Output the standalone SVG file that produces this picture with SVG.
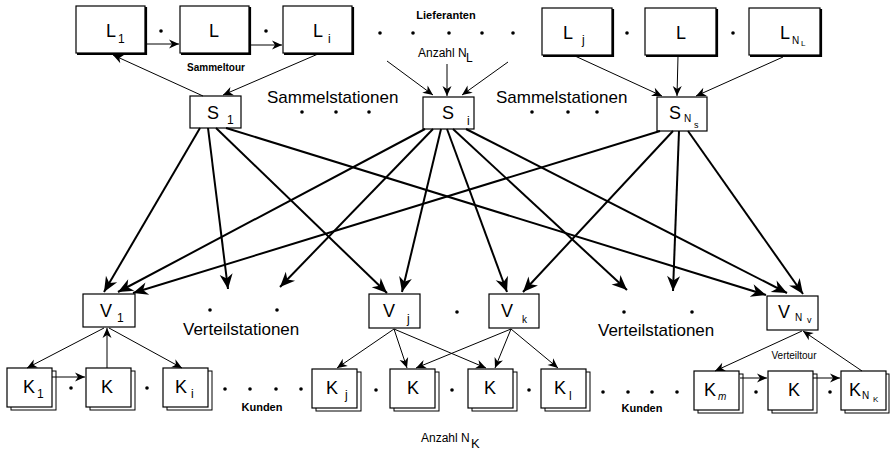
<svg xmlns="http://www.w3.org/2000/svg" width="890" height="450" viewBox="0 0 890 450">
  <style>
    text { font-family: "Liberation Sans", Arial, sans-serif; fill: #000; }
    .box { fill: #fff; stroke: #000; stroke-width: 1.2; }
    .shadow { fill: none; stroke: #000; stroke-width: 2.2; }
    .page { fill: #fff; stroke: #000; stroke-width: 1; }
    .lbl { font-size: 18px; }
    .sub { font-size: 12px; }
    .sub2 { font-size: 10px; }
    .big { font-size: 17px; }
    .small { font-size: 12px; }
    .tiny { font-size: 10px; font-weight: bold; }
    .thin { stroke: #000; stroke-width: 1; fill: none; marker-end: url(#ahs); }
    .thick { stroke: #000; stroke-width: 2; fill: none; marker-end: url(#ahl); }
    .dot { fill: #000; }
  </style>
  <defs>
    <marker id="ahl" markerUnits="userSpaceOnUse" orient="auto" refX="15" refY="0" markerWidth="16" markerHeight="14" overflow="visible">
      <path d="M0,-6.5 L15,0 L0,6.5 L4.5,0 Z" fill="#000"/>
    </marker>
    <marker id="ahs" markerUnits="userSpaceOnUse" orient="auto" refX="10" refY="0" markerWidth="11" markerHeight="10" overflow="visible">
      <path d="M0,-4.5 L10,0 L0,4.5 L3,0 Z" fill="#000"/>
    </marker>
  </defs>

  <!-- Suppliers (Lieferanten) -->
  <g id="L1"><rect class="box" x="76" y="6" width="69" height="47"/><polyline class="shadow" points="146,7 146,54 77,54"/><text class="lbl" x="106" y="37">L<tspan class="sub" x="118" y="43">1</tspan></text></g>
  <g id="L2"><rect class="box" x="180" y="6" width="69" height="47"/><polyline class="shadow" points="250,7 250,54 181,54"/><text class="lbl" x="209" y="37">L</text></g>
  <g id="Li"><rect class="box" x="283" y="6" width="69" height="47"/><polyline class="shadow" points="353,7 353,54 284,54"/><text class="lbl" x="313" y="37">L<tspan class="sub" x="328" y="43">i</tspan></text></g>
  <g id="Lj"><rect class="box" x="542" y="8" width="70" height="47"/><polyline class="shadow" points="613,9 613,56 543,56"/><text class="lbl" x="563" y="39">L<tspan class="sub" x="582" y="44">j</tspan></text></g>
  <g id="L3"><rect class="box" x="645" y="8" width="71" height="47"/><polyline class="shadow" points="717,9 717,56 646,56"/><text class="lbl" x="676" y="39">L</text></g>
  <g id="LNL"><rect class="box" x="749" y="8" width="71" height="47"/><polyline class="shadow" points="821,9 821,56 750,56"/><text class="lbl" x="780" y="39">L<tspan class="sub2" x="792" y="44">N</tspan><tspan style="font-size:8px" x="801" y="46">L</tspan></text></g>

  <!-- Collection stations (Sammelstationen) -->
  <g id="S1"><rect class="box" x="190" y="96" width="51" height="32"/><text class="lbl" x="207" y="119">S<tspan class="sub" x="227" y="124">1</tspan></text></g>
  <g id="Si"><rect class="box" x="423" y="97" width="51" height="32"/><text class="lbl" x="442" y="119">S<tspan class="sub" x="467" y="125">i</tspan></text></g>
  <g id="SNs"><rect class="box" x="657" y="97" width="50" height="34"/><text class="lbl" x="669" y="119">S<tspan class="sub2" x="684" y="122">N</tspan><tspan style="font-size:9px" x="694" y="128">s</tspan></text></g>

  <!-- Distribution stations (Verteilstationen) -->
  <g id="V1"><rect class="box" x="83" y="294" width="52" height="33"/><text class="lbl" x="100" y="317">V<tspan class="sub" x="117" y="322">1</tspan></text></g>
  <g id="Vj"><rect class="box" x="369" y="294" width="51" height="34"/><text class="lbl" x="383" y="317">V<tspan class="sub" x="407" y="323">j</tspan></text></g>
  <g id="Vk"><rect class="box" x="489" y="294" width="50" height="34"/><text class="lbl" x="501" y="317">V<tspan class="sub2" x="522" y="323">k</tspan></text></g>
  <g id="VNv"><rect class="box" x="767" y="296" width="51" height="34"/><text class="lbl" x="778" y="318">V<tspan class="sub2" x="795" y="321">N</tspan><tspan style="font-size:9px" x="807" y="323">v</tspan></text></g>

  <!-- Customers (Kunden), drawn as stacked sheets -->
  <g id="K1"><rect class="page" x="11" y="371" width="45" height="39"/><rect class="box" x="7" y="368" width="45" height="39"/><text class="lbl" x="23" y="393">K<tspan class="sub" x="37" y="398">1</tspan></text></g>
  <g id="K2"><rect class="page" x="90" y="371" width="45" height="39"/><rect class="box" x="86" y="368" width="45" height="39"/><text class="lbl" x="101" y="393">K</text></g>
  <g id="Ki"><rect class="page" x="167" y="371" width="45" height="39"/><rect class="box" x="163" y="368" width="45" height="39"/><text class="lbl" x="175" y="393">K<tspan class="sub" x="191" y="398">i</tspan></text></g>
  <g id="Kj"><rect class="page" x="316" y="372" width="45" height="39"/><rect class="box" x="312" y="369" width="45" height="39"/><text class="lbl" x="326" y="394">K<tspan class="sub" x="345" y="399">j</tspan></text></g>
  <g id="K3"><rect class="page" x="394" y="372" width="45" height="39"/><rect class="box" x="390" y="369" width="45" height="39"/><text class="lbl" x="407" y="394">K</text></g>
  <g id="K4"><rect class="page" x="472" y="372" width="45" height="39"/><rect class="box" x="468" y="369" width="45" height="39"/><text class="lbl" x="484" y="394">K</text></g>
  <g id="Kl"><rect class="page" x="545" y="372" width="45" height="39"/><rect class="box" x="541" y="369" width="45" height="39"/><text class="lbl" x="554" y="394">K<tspan class="sub" x="569" y="400">l</tspan></text></g>
  <g id="Km"><rect class="page" x="698" y="374" width="45" height="39"/><rect class="box" x="694" y="371" width="45" height="39"/><text class="lbl" x="704" y="396">K<tspan class="sub2" style="font-style:italic" x="718" y="400">m</tspan></text></g>
  <g id="K5"><rect class="page" x="772" y="374" width="45" height="39"/><rect class="box" x="768" y="371" width="45" height="39"/><text class="lbl" x="788" y="396">K</text></g>
  <g id="KNK"><rect class="page" x="845" y="374" width="44" height="39"/><rect class="box" x="841" y="371" width="45" height="39"/><text class="lbl" x="849" y="396">K<tspan class="sub2" x="862" y="399">N</tspan><tspan style="font-size:8px" x="873" y="402">K</tspan></text></g>

  <!-- Labels -->
  <g id="labels">
    <text class="tiny" style="font-size:11px" x="446" y="19" text-anchor="middle">Lieferanten</text>
    <text class="small" x="418" y="57">Anzahl N<tspan x="466" y="62">L</tspan></text>
    <text class="tiny" x="216" y="71" text-anchor="middle">Sammeltour</text>
    <text class="big" x="267" y="103">Sammelstationen</text>
    <text class="big" x="496" y="103">Sammelstationen</text>
    <text class="big" x="183" y="335">Verteilstationen</text>
    <text class="big" x="598" y="336">Verteilstationen</text>
    <text style="font-size:10px" x="794" y="359" text-anchor="middle">Verteiltour</text>
    <text class="tiny" style="font-size:11px" x="262" y="411" text-anchor="middle">Kunden</text>
    <text class="tiny" style="font-size:11px" x="642" y="412" text-anchor="middle">Kunden</text>
    <text class="small" x="421" y="442">Anzahl N<tspan style="font-size:13px" x="471" y="448">K</tspan></text>
  </g>

  <!-- Ellipsis dots -->
  <g id="dots">
    <circle class="dot" cx="161" cy="31" r="1.8"/><circle class="dot" cx="266" cy="31" r="1.8"/>
    <circle class="dot" cx="380" cy="33" r="1.8"/><circle class="dot" cx="413" cy="33" r="1.8"/><circle class="dot" cx="449" cy="33" r="1.8"/><circle class="dot" cx="482" cy="33" r="1.8"/><circle class="dot" cx="513" cy="33" r="1.8"/>
    <circle class="dot" cx="627" cy="33" r="1.8"/><circle class="dot" cx="733" cy="33" r="1.8"/>
    <circle class="dot" cx="302" cy="112" r="1.8"/><circle class="dot" cx="336" cy="112" r="1.8"/><circle class="dot" cx="369" cy="112" r="1.8"/>
    <circle class="dot" cx="532" cy="112" r="1.8"/><circle class="dot" cx="568" cy="112" r="1.8"/><circle class="dot" cx="597" cy="112" r="1.8"/>
    <circle class="dot" cx="210" cy="310" r="1.8"/><circle class="dot" cx="277" cy="310" r="1.8"/>
    <circle class="dot" cx="457" cy="312" r="1.8"/>
    <circle class="dot" cx="624" cy="312" r="1.8"/><circle class="dot" cx="692" cy="312" r="1.8"/>
    <circle class="dot" cx="71" cy="388" r="1.8"/><circle class="dot" cx="147" cy="388" r="1.8"/>
    <circle class="dot" cx="225" cy="389" r="1.8"/><circle class="dot" cx="250" cy="389" r="1.8"/><circle class="dot" cx="276" cy="389" r="1.8"/><circle class="dot" cx="301" cy="389" r="1.8"/>
    <circle class="dot" cx="376" cy="390" r="1.8"/><circle class="dot" cx="452" cy="390" r="1.8"/><circle class="dot" cx="529" cy="390" r="1.8"/>
    <circle class="dot" cx="603" cy="392" r="1.8"/><circle class="dot" cx="628" cy="392" r="1.8"/><circle class="dot" cx="652" cy="392" r="1.8"/><circle class="dot" cx="677" cy="392" r="1.8"/>
    <circle class="dot" cx="756" cy="392" r="1.8"/><circle class="dot" cx="830" cy="392" r="1.8"/>
  </g>

  <!-- Connectors -->
  <g id="connectors">
    <!-- collection tour and supplier feeds -->
    <line class="thin" x1="145" y1="44" x2="179" y2="44"/>
    <line class="thin" x1="250" y1="45" x2="282" y2="45"/>
    <line class="thin" x1="203" y1="96" x2="113" y2="55"/>
    <line class="thin" x1="318" y1="54" x2="223" y2="95"/>
    <line class="thin" x1="387" y1="61" x2="433" y2="95"/>
    <line class="thin" x1="447" y1="64" x2="447" y2="96"/>
    <line class="thin" x1="508" y1="62" x2="462" y2="95"/>
    <line class="thin" x1="575" y1="56" x2="662" y2="96"/>
    <line class="thin" x1="678" y1="56" x2="677" y2="96"/>
    <line class="thin" x1="783" y1="57" x2="696" y2="96"/>

    <!-- S to V flows -->
    <line class="thick" x1="200" y1="128" x2="104" y2="292"/>
    <line class="thick" x1="208" y1="128" x2="228" y2="289"/>
    <line class="thick" x1="216" y1="128" x2="387" y2="293"/>
    <line class="thick" x1="226" y1="128" x2="766" y2="295"/>

    <line class="thick" x1="425" y1="129" x2="118" y2="292"/>
    <line class="thick" x1="433" y1="129" x2="280" y2="287"/>
    <line class="thick" x1="441" y1="129" x2="402" y2="292"/>
    <line class="thick" x1="447" y1="129" x2="507" y2="292"/>
    <line class="thick" x1="453" y1="129" x2="627" y2="290"/>
    <line class="thick" x1="466" y1="129" x2="787" y2="293"/>

    <line class="thick" x1="660" y1="131" x2="133" y2="293"/>
    <line class="thick" x1="673" y1="131" x2="523" y2="292"/>
    <line class="thick" x1="679" y1="131" x2="673" y2="291"/>
    <line class="thick" x1="688" y1="131" x2="803" y2="294"/>

    <!-- V to K deliveries -->
    <line class="thin" x1="104" y1="328" x2="27" y2="368"/>
    <line class="thin" x1="107" y1="368" x2="107" y2="328"/>
    <line class="thin" x1="109" y1="328" x2="182" y2="368"/>
    <line class="thin" x1="394" y1="329" x2="337" y2="368"/>
    <line class="thin" x1="394" y1="329" x2="407" y2="368"/>
    <line class="thin" x1="394" y1="329" x2="486" y2="368"/>
    <line class="thin" x1="511" y1="329" x2="416" y2="368"/>
    <line class="thin" x1="511" y1="329" x2="495" y2="368"/>
    <line class="thin" x1="511" y1="329" x2="558" y2="368"/>

    <!-- distribution tours -->
    <line class="thin" x1="52" y1="377" x2="85" y2="377"/>
    <line class="thin" x1="740" y1="378" x2="767" y2="378"/>
    <line class="thin" x1="813" y1="378" x2="840" y2="378"/>
    <line class="thin" x1="802" y1="331" x2="715" y2="371"/>
    <line class="thin" x1="862" y1="371" x2="803" y2="331"/>
  </g>
</svg>
